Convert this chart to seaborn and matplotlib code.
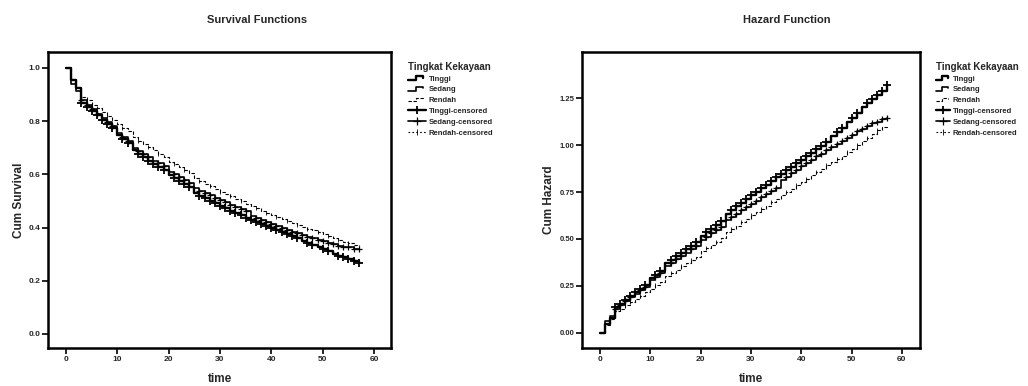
import numpy as np
import pandas as pd
import matplotlib
matplotlib.use("Agg")
import matplotlib.pyplot as plt
import seaborn as sns
from matplotlib.lines import Line2D
from matplotlib.legend_handler import HandlerLine2D

# ---- data -------------------------------------------------------------
time = list(range(0, 58))

surv_tinggi = [1.000, 0.955, 0.925, 0.870, 0.855, 0.838, 0.822, 0.806, 0.790, 0.775,
               0.748, 0.733, 0.718, 0.690, 0.677, 0.665, 0.652, 0.640, 0.628, 0.616,
               0.596, 0.585, 0.574, 0.563, 0.552, 0.530, 0.520, 0.510, 0.500, 0.491,
               0.481, 0.472, 0.463, 0.454, 0.446, 0.437, 0.429, 0.421, 0.413, 0.405,
               0.398, 0.390, 0.383, 0.376, 0.369, 0.362, 0.350, 0.343, 0.336, 0.325,
               0.318, 0.311, 0.300, 0.294, 0.288, 0.282, 0.276, 0.268]

surv_sedang = [1.000, 0.940, 0.915, 0.880, 0.862, 0.845, 0.828, 0.812, 0.796, 0.781,
               0.755, 0.741, 0.727, 0.700, 0.688, 0.676, 0.664, 0.652, 0.641, 0.630,
               0.610, 0.600, 0.589, 0.579, 0.569, 0.548, 0.539, 0.530, 0.521, 0.512,
               0.503, 0.495, 0.486, 0.478, 0.470, 0.462, 0.444, 0.436, 0.428, 0.420,
               0.412, 0.405, 0.398, 0.391, 0.385, 0.378, 0.372, 0.366, 0.360, 0.354,
               0.348, 0.342, 0.337, 0.332, 0.328, 0.325, 0.321, 0.318]

surv_rendah = [1.000, 0.960, 0.930, 0.890, 0.878, 0.862, 0.848, 0.834, 0.820, 0.806,
               0.790, 0.776, 0.762, 0.740, 0.727, 0.714, 0.702, 0.690, 0.678, 0.666,
               0.648, 0.637, 0.626, 0.615, 0.604, 0.585, 0.575, 0.565, 0.555, 0.545,
               0.535, 0.526, 0.517, 0.508, 0.499, 0.490, 0.480, 0.472, 0.464, 0.456,
               0.448, 0.440, 0.432, 0.425, 0.418, 0.410, 0.403, 0.396, 0.389, 0.382,
               0.375, 0.368, 0.361, 0.354, 0.347, 0.340, 0.335, 0.330]

# times at which censored cases occur in each group
cens_tinggi = [3, 4, 5, 6, 7, 8, 9, 11, 12, 14, 15, 16, 17, 18, 19, 21, 22, 23, 24, 26,
               27, 28, 29, 30, 31, 32, 33, 34, 35, 36, 37, 38, 39, 40, 41, 42, 43, 44,
               45, 47, 48, 50, 51, 53, 54, 55, 56, 57]
cens_sedang = [3, 4, 5, 6, 8, 9, 11, 12, 14, 15, 16, 18, 19, 21, 22, 23, 24, 26, 27, 28,
               29, 30, 31, 32, 33, 34, 35, 37, 38, 39, 40, 41, 42, 43, 44, 45, 46, 47,
               48, 49, 50, 51, 52, 53, 54, 55, 56, 57]
cens_rendah = [4, 6, 8, 11, 14, 16, 18, 21, 23, 26, 28, 30, 32, 34, 37, 39, 41, 43, 45,
               47, 49, 51, 53, 55]

groups = ["Tinggi", "Sedang", "Rendah"]
legend_title = "Tingkat Kekayaan"

surv = {"Tinggi": surv_tinggi, "Sedang": surv_sedang, "Rendah": surv_rendah}
cens = {"Tinggi": cens_tinggi, "Sedang": cens_sedang, "Rendah": cens_rendah}

rows = []
for g in groups:
    for t, s in zip(time, surv[g]):
        rows.append({"time": t, "surv": s, "hazard": -np.log(s), "group": g})
df = pd.DataFrame(rows)

crows = []
for g in groups:
    for t in cens[g]:
        s = surv[g][time.index(t)]
        crows.append({"time": t, "surv": s, "hazard": -np.log(s), "group": g})
cdf = pd.DataFrame(crows)

# ---- style ------------------------------------------------------------
sns.set_theme(style="white")
plt.rcParams["font.family"] = ["Liberation Sans", "DejaVu Sans"]
plt.rcParams["font.weight"] = "bold"

black = {g: "black" for g in groups}
line_w = {"Tinggi": 1.7, "Sedang": 1.2, "Rendah": 0.8}
dash = {"Tinggi": "", "Sedang": "", "Rendah": (3, 1.5)}
mk = {"Tinggi": "+", "Sedang": "+", "Rendah": "|"}
mk_size = {"Tinggi": 28, "Sedang": 24, "Rendah": 12}
mk_lw = {"Tinggi": 1.3, "Sedang": 0.9, "Rendah": 0.6}

fig = plt.figure(figsize=(10.28, 3.86), dpi=100)
W, H = 1028, 386
ax1 = fig.add_axes([48 / W, 1 - 348 / H, 343 / W, 296 / H])
ax2 = fig.add_axes([582 / W, 1 - 348 / H, 338 / W, 296 / H])


def draw_panel(ax, ycol):
    sns.lineplot(data=df, x="time", y=ycol, hue="group", style="group",
                 size="group", sizes=line_w, dashes=dash, palette=black,
                 drawstyle="steps-post", estimator=None, legend=False, ax=ax)
    for g in groups:
        sub = cdf[cdf["group"] == g]
        sns.scatterplot(data=sub, x="time", y=ycol, marker=mk[g], color="black",
                        s=mk_size[g], linewidth=mk_lw[g], legend=False, ax=ax)
    for sp in ax.spines.values():
        sp.set_visible(True)
        sp.set_color("black")
        sp.set_linewidth(1.8)
    ax.tick_params(axis="both", direction="out", length=4, width=1.2,
                   color="black", labelsize=6, pad=1.5, bottom=True, left=True)
    ax.set_xticks([0, 10, 20, 30, 40, 50, 60])


draw_panel(ax1, "surv")
ax1.set_xlim(-3.5, 63.3)
ax1.set_ylim(-0.053, 1.06)
sv_ticks = [0.0, 0.2, 0.4, 0.6, 0.8, 1.0]
ax1.set_yticks(sv_ticks)
ax1.set_yticklabels([f"{v:.1f}" for v in sv_ticks], fontweight="bold", fontsize=6)
ax1.set_xticklabels(["0", "10", "20", "30", "40", "50", "60"],
                    fontweight="bold", fontsize=6)
ax1.set_xlabel("time", fontsize=8.5, fontweight="bold")
ax1.set_ylabel("Cum Survival", fontsize=8.5, fontweight="bold")
ax1.xaxis.set_label_coords(0.5, -0.085)
ax1.yaxis.set_label_coords(-0.066, 0.5)

draw_panel(ax2, "hazard")
ax2.set_xlim(-3.6, 63.6)
ax2.set_ylim(-0.08, 1.495)
hz_ticks = [0.0, 0.25, 0.5, 0.75, 1.0, 1.25]
ax2.set_yticks(hz_ticks)
ax2.set_yticklabels([f"{v:.2f}" for v in hz_ticks], fontweight="bold", fontsize=5.5)
ax2.set_xticklabels(["0", "10", "20", "30", "40", "50", "60"],
                    fontweight="bold", fontsize=6)
ax2.set_xlabel("time", fontsize=8.5, fontweight="bold")
ax2.set_ylabel("Cum Hazard", fontsize=8.5, fontweight="bold")
ax2.xaxis.set_label_coords(0.5, -0.085)
ax2.yaxis.set_label_coords(-0.08, 0.5)

fig.text(257 / W, 1 - 20 / H, "Survival Functions", ha="center", va="center",
         fontsize=8, fontweight="bold")
fig.text(787 / W, 1 - 20 / H, "Hazard Function", ha="center", va="center",
         fontsize=8, fontweight="bold")


# legend glyph: a small step for the survival lines
class StepHandler(HandlerLine2D):
    def create_artists(self, legend, orig_handle, xdescent, ydescent,
                       width, height, fontsize, trans):
        xs = np.array([0.0, 0.45, 0.45, 0.85, 0.85]) * width - xdescent
        ys = np.array([0.15, 0.15, 0.8, 0.8, 0.55]) * height - ydescent
        ln = Line2D(xs, ys)
        self.update_prop(ln, orig_handle, legend)
        ln.set_marker("")
        ln.set_transform(trans)
        return [ln]


def legend_handles():
    hs, labs = [], []
    for g in groups:
        hs.append(Line2D([], [], color="black", lw=line_w[g],
                         linestyle="-" if g != "Rendah" else (0, (3, 1.5))))
        labs.append(g)
    for g in groups:
        hs.append(Line2D([], [], color="black", lw=line_w[g],
                         linestyle="-" if g != "Rendah" else (0, (1.5, 2)),
                         marker=mk[g], markersize=6 if g != "Rendah" else 4,
                         markeredgewidth=mk_lw[g]))
        labs.append(f"{g}-censored")
    return hs, labs


for ax, x0, hl in [(ax1, 404, 2.4), (ax2, 932, 1.9)]:
    hs, labs = legend_handles()
    handler_map = {h: StepHandler() for h in hs[:3]}
    leg = fig.legend(hs, labs, title=legend_title, loc="upper left",
                     bbox_to_anchor=(x0 / W, 1 - 58 / H), frameon=False,
                     fontsize=5.5, title_fontsize=7, handlelength=hl,
                     handletextpad=0.3, labelspacing=0.45, borderpad=0,
                     alignment="left", numpoints=1, handler_map=handler_map)
    leg.get_title().set_fontweight("bold")
    for t in leg.get_texts():
        t.set_fontweight("bold")

fig.savefig("out.png", dpi=100, facecolor="white")
